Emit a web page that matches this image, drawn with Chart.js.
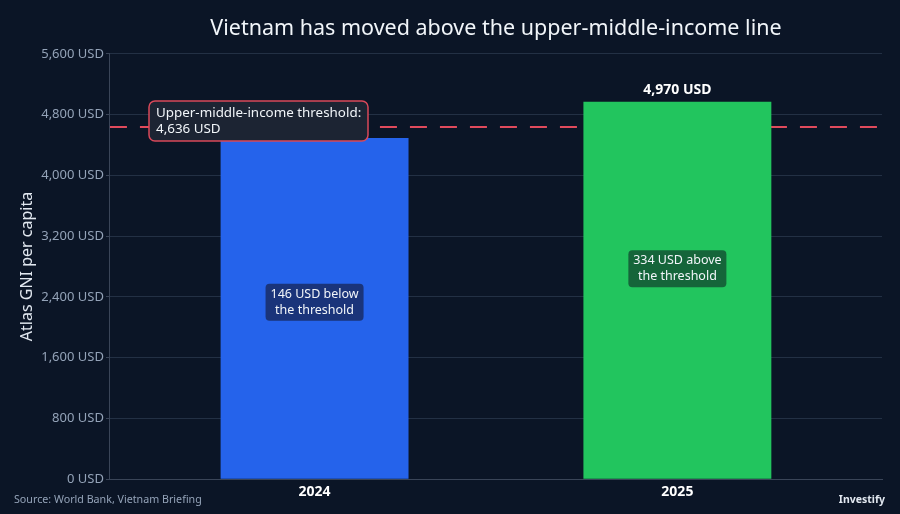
<!DOCTYPE html>
<html>
<head>
<meta charset="utf-8">
<script src="https://cdn.jsdelivr.net/npm/chart.js@4.4.1/dist/chart.umd.min.js"></script>
<style>
  html, body { margin: 0; padding: 0; background: #0b1526; }
  #wrap { width: 900px; height: 514px; position: relative; }
</style>
</head>
<body>
<div id="wrap"><canvas id="myChart"></canvas></div>
<script>
const years = [2024, 2025];
const gni = [4490, 4970];
const threshold = 4636;
const gapNotes = [['146 USD below', 'the threshold'], ['334 USD above', 'the threshold']];
const notePos = [2330, 2770];
const yTicks = [0, 800, 1600, 2400, 3200, 4000, 4800, 5600];

const FONT = "'Noto Sans', 'Open Sans', sans-serif";
const fmt = v => v.toLocaleString('en-US') + ' USD';

function roundBox(ctx, x, y, w, h, r) {
  ctx.beginPath();
  ctx.moveTo(x + r, y);
  ctx.arcTo(x + w, y, x + w, y + h, r);
  ctx.arcTo(x + w, y + h, x, y + h, r);
  ctx.arcTo(x, y + h, x, y, r);
  ctx.arcTo(x, y, x + w, y, r);
  ctx.closePath();
}

const extras = {
  id: 'extras',
  beforeDatasetsDraw(chart) {
    const { ctx, chartArea, scales } = chart;
    const y = scales.y.getPixelForValue(threshold);
    ctx.save();
    ctx.strokeStyle = '#e04a5c';
    ctx.lineWidth = 2;
    ctx.setLineDash([17, 13]);
    ctx.beginPath();
    ctx.moveTo(chartArea.left, y);
    ctx.lineTo(chartArea.right, y);
    ctx.stroke();
    ctx.restore();
  },
  afterDatasetsDraw(chart) {
    const { ctx, scales } = chart;
    const meta = chart.getDatasetMeta(0);
    ctx.save();
    ctx.font = '12.5px ' + FONT;
    ctx.textAlign = 'center';
    ctx.textBaseline = 'middle';
    const fills = ['#1a347a', '#15653a'];
    meta.data.forEach((bar, i) => {
      const cy = scales.y.getPixelForValue(notePos[i]);
      const w = 98, h = 37;
      roundBox(ctx, bar.x - w / 2, cy - h / 2, w, h, 4);
      ctx.fillStyle = fills[i];
      ctx.fill();
      ctx.fillStyle = '#f1f5f9';
      ctx.fillText(gapNotes[i][0], bar.x, cy - 8);
      ctx.fillText(gapNotes[i][1], bar.x, cy + 8);
    });

    // value label above the latest bar
    const last = meta.data[meta.data.length - 1];
    ctx.font = 'bold 14px ' + FONT;
    ctx.fillStyle = '#ffffff';
    ctx.textBaseline = 'bottom';
    ctx.fillText(fmt(gni[gni.length - 1]), last.x, last.y - 5);

    // threshold callout
    const ty = scales.y.getPixelForValue(threshold);
    const bx = 149, bw = 219, bh = 40, by = ty - 26;
    roundBox(ctx, bx, by, bw, bh, 6);
    ctx.fillStyle = '#1c2433';
    ctx.fill();
    ctx.strokeStyle = '#d9485a';
    ctx.lineWidth = 1.5;
    ctx.stroke();
    ctx.font = '13.4px ' + FONT;
    ctx.fillStyle = '#f1f5f9';
    ctx.textAlign = 'left';
    ctx.textBaseline = 'middle';
    ctx.fillText('Upper-middle-income threshold:', bx + 7, by + 12);
    ctx.fillText(fmt(threshold), bx + 7, by + 28);

    // footer
    ctx.font = '10.7px ' + FONT;
    ctx.fillStyle = '#94a3b8';
    ctx.fillText('Source: World Bank, Vietnam Briefing', 14, 500);
    ctx.font = 'bold 10.5px ' + FONT;
    ctx.fillStyle = '#e2e8f0';
    ctx.textAlign = 'right';
    ctx.fillText('Investify', 885, 500);
    ctx.restore();
  }
};

const config = {
  type: 'bar',
  data: {
    labels: years,
    datasets: [{
      label: 'Atlas GNI per capita',
      data: gni,
      backgroundColor: ['#2563eb', '#22c55e'],
      borderWidth: 0,
      barPercentage: 0.518,
      categoryPercentage: 1
    }]
  },
  options: {
    responsive: true,
    maintainAspectRatio: false,
    animation: false,
    layout: { padding: { top: 4, right: 18, bottom: 10, left: 14 } },
    plugins: {
      legend: { display: false },
      tooltip: { enabled: false },
      title: {
        display: true,
        fullSize: false,
        text: 'Vietnam has moved above the upper-middle-income line',
        color: '#f1f5f9',
        font: { family: FONT, size: 21.5, weight: 'normal' },
        padding: { top: 12, bottom: 12 }
      }
    },
    scales: {
      x: {
        type: 'linear',
        offset: false,
        min: 2023.436,
        max: 2025.564,
        afterBuildTicks: s => { s.ticks = years.map(v => ({ value: v })); },
        grid: { display: false, drawTicks: false, offset: false },
        border: { color: '#3a4558' },
        ticks: {
          color: '#ffffff',
          font: { family: FONT, size: 14, weight: 'bold' },
          padding: 4,
          callback: v => String(v)
        }
      },
      y: {
        min: 0,
        max: 5600,
        afterBuildTicks: s => { s.ticks = yTicks.map(v => ({ value: v })); },
        grid: { color: '#233044', tickColor: '#3a4558', tickLength: 4 },
        border: { color: '#3a4558' },
        ticks: {
          color: '#94a3b8',
          font: { family: FONT, size: 13 },
          padding: 2,
          callback: v => fmt(v)
        },
        title: {
          display: true,
          text: 'Atlas GNI per capita',
          color: '#e2e8f0',
          font: { family: FONT, size: 16 },
          padding: { bottom: 2 }
        }
      }
    }
  },
  plugins: [extras]
};

new Chart(document.getElementById('myChart'), config);
</script>
</body>
</html>
